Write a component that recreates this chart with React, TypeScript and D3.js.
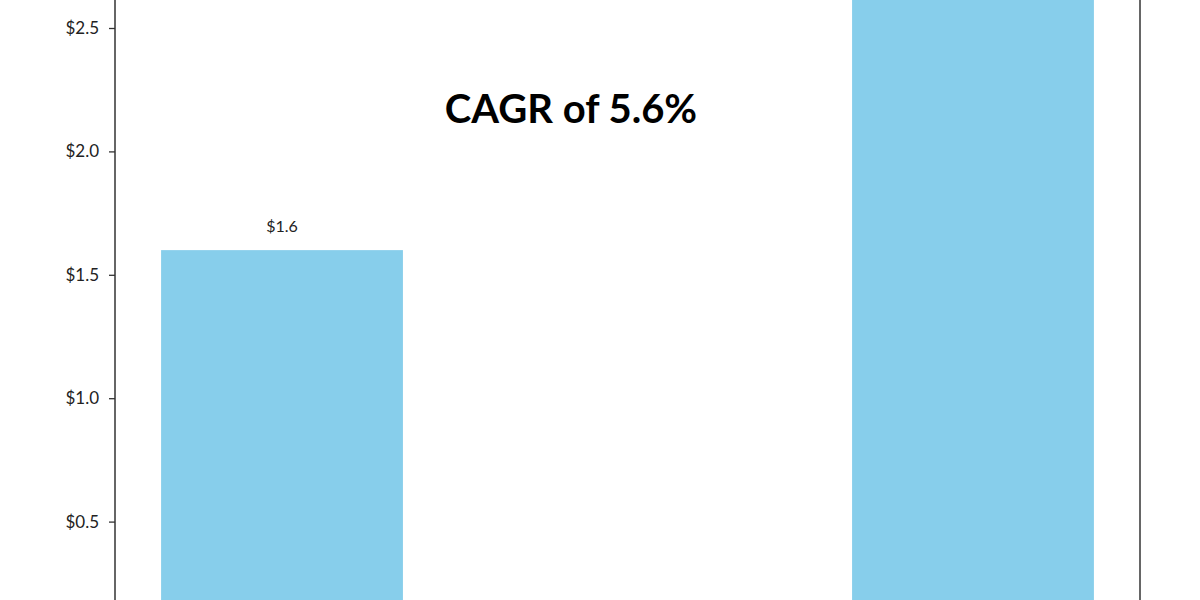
import * as d3 from 'd3'
import React, { useEffect, useRef } from 'react'

const years = ['2023', '2032']
const marketSize = [1.6, 2.8]
const tickValues = [0.5, 1.0, 1.5, 2.0, 2.5]
const cagrLabel = 'CAGR of 5.6%'

const width = 1200
const height = 600

const App: React.FC = () => {
  const ref = useRef<SVGSVGElement>(null)

  useEffect(() => {
    const svg = d3.select(ref.current)
    svg.selectAll('*').remove()

    // plot area is cropped: zero sits below the bottom edge, top above
    const left = 115
    const right = 1140

    const x = d3.scaleBand<string>().domain(years).range([left, right]).paddingInner(0.65).paddingOuter(0.0667)
    const y = d3.scaleLinear().domain([0, 2.5]).range([645, 28])

    const data = years.map((year, i) => ({ year, value: marketSize[i] }))

    svg
      .selectAll('.bar')
      .data(data)
      .enter()
      .append('rect')
      .attr('class', 'bar')
      .attr('x', (d) => x(d.year) || 0)
      .attr('width', x.bandwidth())
      .attr('y', (d) => y(d.value))
      .attr('height', (d) => y(0) - y(d.value))
      .attr('fill', '#87CEEB')

    // value labels (the one above the cropped top is out of view anyway)
    svg
      .selectAll('.val')
      .data(data.filter((d) => y(d.value) - 18 > 16))
      .enter()
      .append('text')
      .attr('x', (d) => (x(d.year) || 0) + x.bandwidth() / 2)
      .attr('y', (d) => y(d.value) - 18)
      .attr('text-anchor', 'middle')
      .style('font-family', 'Lato, sans-serif')
      .style('font-size', '16px')
      .attr('fill', '#222')
      .text((d) => '$' + d.value.toFixed(1))

    // y axis
    const axis = svg
      .append('g')
      .attr('transform', 'translate(' + left + ',0)')
      .call(
        d3
          .axisLeft(y)
          .tickValues(tickValues)
          .tickSize(6)
          .tickPadding(10)
          .tickFormat((d) => '$' + (+d).toFixed(1))
      )
    axis.select('.domain').remove()
    axis.selectAll('line').attr('stroke', '#333').attr('stroke-width', 1.3)
    axis
      .selectAll('text')
      .style('font-family', 'Lato, sans-serif')
      .style('font-size', '17px')
      .attr('fill', '#222')

    // frame
    svg
      .append('line')
      .attr('x1', left)
      .attr('x2', left)
      .attr('y1', 0)
      .attr('y2', height)
      .attr('stroke', '#333')
      .attr('stroke-width', 1.5)
    svg
      .append('line')
      .attr('x1', right)
      .attr('x2', right)
      .attr('y1', 0)
      .attr('y2', height)
      .attr('stroke', '#333')
      .attr('stroke-width', 1.5)

    svg
      .append('text')
      .attr('x', 571)
      .attr('y', 123)
      .attr('text-anchor', 'middle')
      .style('font-family', 'Lato, sans-serif')
      .style('font-weight', 'bold')
      .style('font-size', '40px')
      .attr('fill', '#000')
      .text(cagrLabel)
  }, [])

  return (
    <svg
      ref={ref}
      width={width}
      height={height}
      style={{ position: 'absolute', left: 0, top: 0, background: '#fff' }}
    />
  )
}

export default App
